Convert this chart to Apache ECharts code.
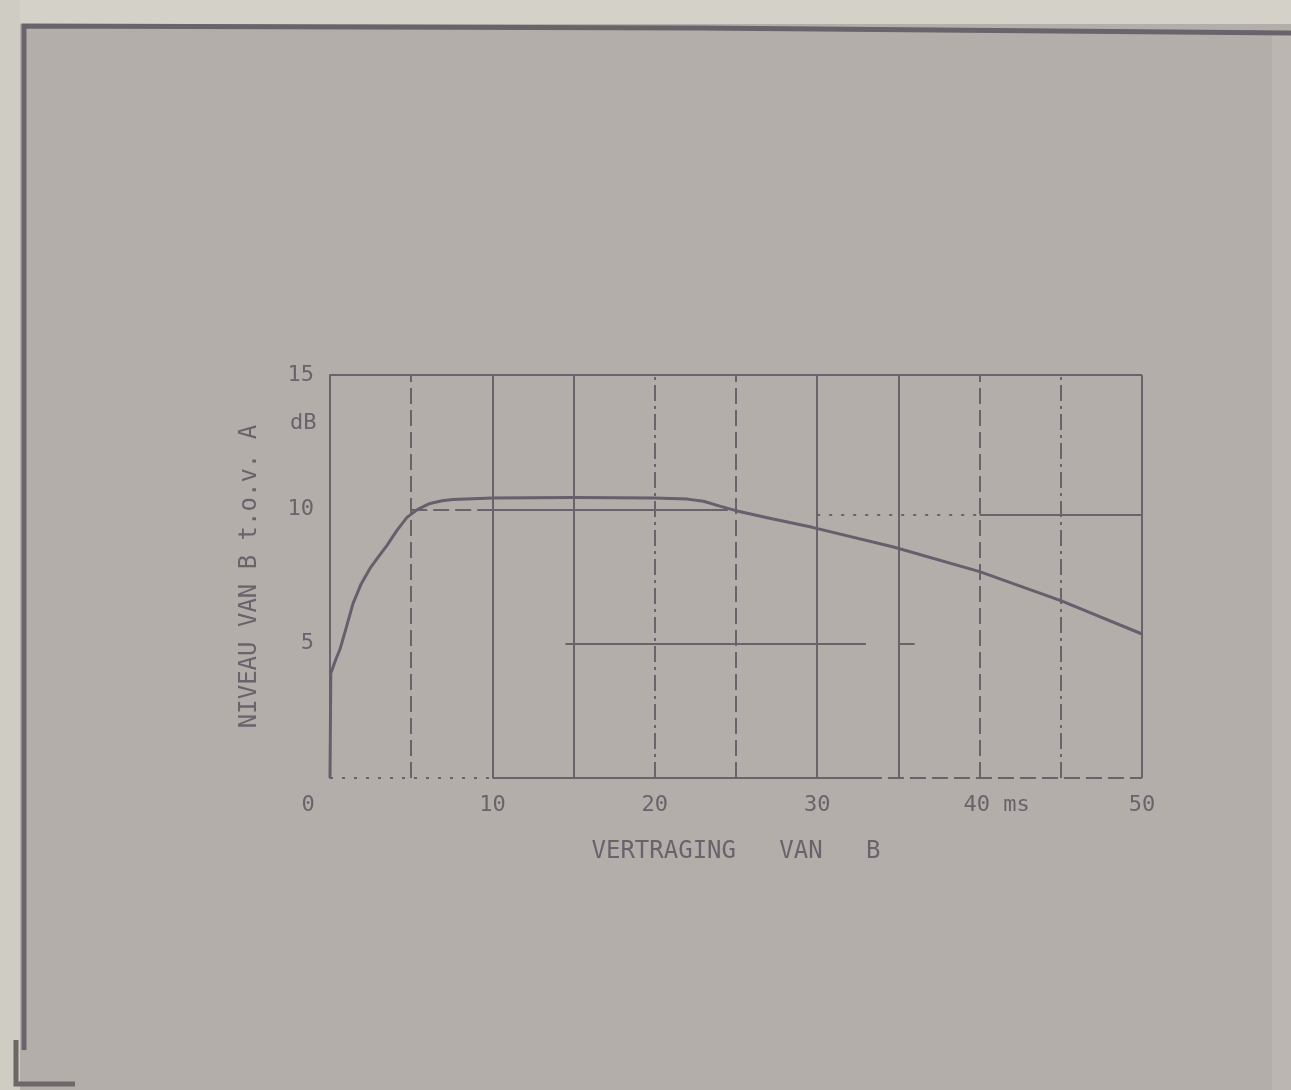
<!DOCTYPE html>
<html>
<head>
<meta charset="utf-8">
<script src="https://cdn.jsdelivr.net/npm/echarts@6/dist/echarts.min.js"></script>
<style>
html,body{margin:0;padding:0;background:#b3ada9;}
#c{width:1291px;height:1090px;}
</style>
</head>
<body>
<div id="c"></div>
<script>
// Data
const delayMs = [0, 0.05, 0.35, 0.62, 1.0, 1.42, 1.9, 2.46, 3.0, 3.5, 4.1, 4.74, 5.4, 6.16, 6.9, 7.57, 10, 15, 20, 22.0, 23.0, 24.0, 25.0, 27, 29.7, 34.7, 40, 45, 50];
const levelDb = [0, 3.9, 4.4, 4.8, 5.6, 6.5, 7.2, 7.8, 8.25, 8.65, 9.2, 9.7, 10.0, 10.22, 10.32, 10.37, 10.42, 10.44, 10.42, 10.38, 10.3, 10.12, 9.95, 9.68, 9.33, 8.6, 7.68, 6.6, 5.36];

const xTickValues = [0, 10, 20, 30, 40, 50];
const xTickLabels = ['0', '10', '20', '30', '40 ms', '50'];
const yTickValues = [5, 10, 15];
const yTickLabels = ['5', '10', '15'];

const xAxisTitle = 'VERTRAGING   VAN   B';
const yAxisTitle = 'NIVEAU VAN B t.o.v. A';
const yUnit = 'dB';

// grid lines of the original drawing (in data units)
const vGridX = [5, 10, 15, 20, 25, 30, 35, 40, 45, 50];
const vGridKind = ['dash', 'solid', 'solid', 'dashdot', 'dash', 'solid', 'solid', 'dash', 'dashdot', 'solid'];
const hSegY = [15, 0, 0, 0, 10, 10, 9.8, 9.8, 5, 5];
const hSegX1 = [0, 0, 10, 33, 5, 10, 30, 40, 14.5, 35];
const hSegX2 = [50, 10, 33, 50, 10, 24.5, 40, 50, 33, 36];
const hSegKind = ['solid', 'dot', 'solid', 'dash', 'dash', 'solid', 'dot', 'solid', 'solid', 'solid'];

const INK = '#6a636c';
const dashMap = { solid: 'solid', dash: [16, 6], dashdot: [16, 5, 3, 5], dot: [3, 9] };

const vLines = vGridX.map((x, i) => ({ xAxis: x, lineStyle: { type: dashMap[vGridKind[i]], color: INK, width: 2 } }));
const hLines = hSegY.map((y, i) => [
  { coord: [hSegX1[i], y], lineStyle: { type: dashMap[hSegKind[i]], color: INK, width: 2 } },
  { coord: [hSegX2[i], y] }
]);

const chart = echarts.init(document.getElementById('c'), null, { renderer: 'canvas' });
const font = 'DejaVu Sans Mono';

chart.setOption({
  backgroundColor: '#b4aeaa',
  animation: false,
  graphic: [
    { type: 'rect', z: -10, shape: { x: 0, y: 0, width: 1291, height: 24 }, style: { fill: '#d4d1c8' } },
    { type: 'rect', z: -10, shape: { x: 0, y: 0, width: 20, height: 1090 }, style: { fill: '#cfccc3' } },
    { type: 'rect', z: -10, shape: { x: 1272, y: 30, width: 19, height: 1060 }, style: { fill: '#bbb6b1' } },
    { type: 'polyline', z: -5, shape: { points: [[24, 1050], [24, 26], [700, 28], [1291, 33]] }, style: { stroke: '#69636a', lineWidth: 5, fill: null } },
    { type: 'polyline', z: -5, shape: { points: [[16, 1040], [16, 1084], [75, 1084]] }, style: { stroke: '#6c6868', lineWidth: 5, fill: null } },
    { type: 'text', left: 290, top: 412, style: { text: yUnit, font: '22px "DejaVu Sans Mono"', fill: INK } }
  ],
  grid: { left: 330, right: 149, top: 375, bottom: 312, containLabel: false },
  xAxis: {
    type: 'value', min: 0, max: 50, interval: 5,
    axisLine: { show: false }, axisTick: { show: false }, splitLine: { show: false },
    axisLabel: {
      margin: 16, color: INK, fontFamily: font, fontSize: 22,
      formatter: function (v) {
        const i = xTickValues.indexOf(v);
        if (i < 0) return '';
        if (v === 0) return '{z|' + xTickLabels[i] + '}';
        if (v === 40) return '{m|' + xTickLabels[i] + '}';
        return xTickLabels[i];
      },
      rich: {
        z: { padding: [0, 44, 0, 0], color: INK, fontFamily: font, fontSize: 22 },
        m: { padding: [0, 0, 0, 34], color: INK, fontFamily: font, fontSize: 22 }
      }
    },
    name: xAxisTitle, nameLocation: 'middle', nameGap: 62,
    nameTextStyle: { color: INK, fontFamily: font, fontSize: 24 }
  },
  yAxis: {
    type: 'value', min: 0, max: 15, interval: 5,
    axisLine: { show: true, lineStyle: { color: INK, width: 2 } },
    axisTick: { show: false }, splitLine: { show: false },
    axisLabel: {
      margin: 16, color: INK, fontFamily: font, fontSize: 22,
      formatter: function (v) {
        const i = yTickValues.indexOf(v);
        return i < 0 ? '' : yTickLabels[i];
      }
    },
    name: yAxisTitle, nameLocation: 'middle', nameGap: 68, nameRotate: 90,
    nameTextStyle: { color: INK, fontFamily: font, fontSize: 24 }
  },
  series: [
    {
      type: 'line',
      data: delayMs.map((x, i) => [x, levelDb[i]]),
      showSymbol: false,
      smooth: false,
      lineStyle: { color: '#675f6b', width: 3, join: 'round' },
      markLine: {
        silent: true, symbol: ['none', 'none'], label: { show: false },
        data: vLines.concat(hLines)
      },
      z: 5
    }
  ]
});
</script>
</body>
</html>
